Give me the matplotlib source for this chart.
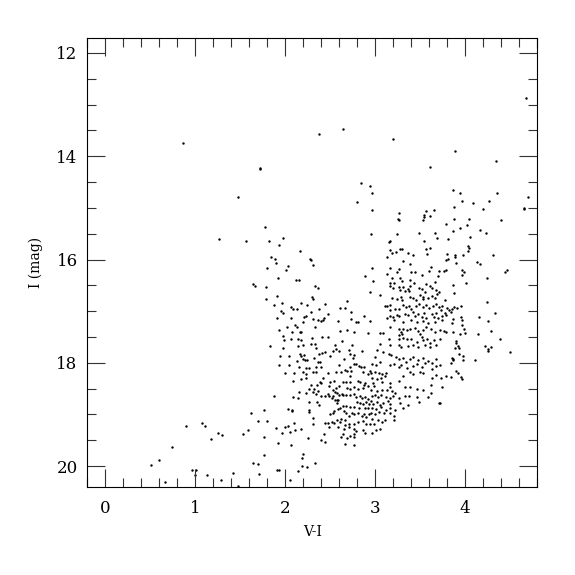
import numpy as np
import matplotlib
matplotlib.use("Agg")
import matplotlib.pyplot as plt
from matplotlib.ticker import MultipleLocator

# (V-I, I) pairs, grouped by region of the CMD
bright_stars = [
    (0.86,13.75),(1.72,14.24),(1.72,14.22),(1.48,14.78),(1.77,15.37),(1.97,15.58),(1.26,15.61),
    (4.68,12.87),(2.38,13.56),(2.64,13.48),(3.20,13.67),(3.89,13.90),(4.34,14.10),(3.61,14.21),
    (2.84,14.51),(2.94,14.58),(2.96,14.71),(2.80,14.89),(2.97,15.04),(3.86,14.66),(3.94,14.71),
    (3.97,14.86),(4.09,14.90),(4.27,14.87),(4.35,14.72),(4.70,14.78),(4.65,15.01),(4.66,15.02),
    (4.20,15.02),(3.88,14.99),(3.26,15.10),(3.25,15.22),(3.27,15.23),(3.65,15.04),(3.57,15.07),
    (3.54,15.13),(3.54,15.18),(3.53,15.24),(3.61,15.16),(3.88,15.22),(4.04,15.22),(4.40,15.24),
    (3.79,15.31),(4.02,15.33),(3.94,15.38),(3.87,15.44),(4.17,15.43),(4.23,15.48),(3.49,15.48),
    (3.67,15.48),(3.24,15.51),(2.95,15.51),(3.69,15.59),(3.81,15.60),(4.05,15.56),
]

faint_tail = [
    (0.90,19.23),(1.07,19.16),(1.11,19.22),(1.25,19.36),(1.30,19.40),(1.17,19.47),(0.74,19.62),
    (0.60,19.89),(0.51,19.97),(0.96,20.08),(1.01,20.08),(1.00,20.18),(1.13,20.17),(1.29,20.27),
    (0.66,20.31),(1.42,20.13),(1.47,20.38),(1.64,19.93),(1.70,19.95),(1.76,19.78),(1.71,20.15),
    (1.91,20.07),(1.93,20.07),(1.92,19.55),(2.06,19.59),(2.05,20.26),(2.14,20.10),(2.19,20.00),
    (2.24,20.02),(2.19,19.85),(2.20,19.77),(2.33,19.94),(2.44,19.53),(2.66,19.58),(2.76,19.59),
]

blue_branch = [
    (1.56,15.64),(1.82,15.64),(1.93,15.72),(2.16,15.83),(1.84,15.95),(1.89,15.99),(1.90,16.06),
    (2.03,16.13),(1.80,16.17),(2.01,16.21),(1.92,16.35),(2.12,16.40),(2.15,16.40),(1.64,16.48),
    (1.66,16.52),(1.79,16.53),(1.91,16.70),(1.79,16.77),(1.96,16.84),(1.87,16.88),(2.06,16.92),
    (2.09,16.95),(2.13,16.95),(1.95,16.99),(1.98,17.03),(1.91,17.13),(2.06,17.14),(2.11,17.27),
    (2.13,17.30),(2.02,17.30),(2.16,17.41),(1.93,17.37),(2.07,17.41),(1.97,17.48),(2.06,17.53),
    (1.99,17.56),(2.14,17.54),(1.83,17.67),(1.97,17.72),(2.14,17.67),(2.16,17.82),(1.94,17.86),
    (2.04,17.87),(2.13,17.96),(1.93,18.04),(2.04,18.05),(2.15,18.09),
    (2.00,18.19),(2.10,18.19),(2.09,18.36),(2.15,18.56),(1.87,18.65),(2.09,18.66),(2.14,18.68),
    (1.76,18.92),(2.03,18.90),(2.07,18.91),(2.07,18.94),(1.62,18.97),(1.70,19.13),(1.80,19.12),
    (2.10,19.16),(2.00,19.24),(2.03,19.22),(1.90,19.27),(1.59,19.31),(2.05,19.34),(2.11,19.31),
    (1.96,19.35),(1.53,19.38),(1.76,19.44),
]

core_upper = [
    (2.27,15.99),(2.29,16.01),(2.31,16.10),(2.89,16.32),(2.33,16.51),(2.36,16.55),(2.94,16.62),
    (2.30,16.73),(2.31,16.77),(2.17,16.85),(2.24,16.88),(2.44,16.86),(2.69,16.81),(2.61,16.94),
    (2.67,16.94),(2.37,16.95),(2.29,17.02),(2.73,17.02),(2.47,17.05),(2.88,17.09),(2.23,17.10),
    (2.21,17.12),(2.43,17.14),(2.42,17.17),(2.40,17.19),(2.31,17.15),(2.36,17.17),(2.20,17.21),
    (2.73,17.15),(2.79,17.20),(2.81,17.21),(2.59,17.19),(2.94,17.19),(2.33,17.30),(2.17,17.41),
    (2.61,17.39),(2.69,17.37),(2.76,17.41),(2.92,17.43),(2.30,17.52),(2.41,17.50),(2.48,17.50),
    (2.63,17.57),(2.17,17.55),(2.29,17.64),(2.33,17.64),(2.20,17.65),(2.55,17.66),(2.56,17.74),
    (2.74,17.65),(2.34,17.72),(2.41,17.81),(2.44,17.79),(2.37,17.83),(2.53,17.77),(2.60,17.78),
    (2.71,17.76),(2.72,17.82),(2.85,17.78),(2.18,17.87),(2.21,17.85),(2.20,17.92),(2.32,17.90),
    (2.50,17.87),(2.65,17.92),(2.77,17.85),(2.75,17.90),(2.22,17.95),(2.24,17.95),(2.39,17.99),
    (2.36,17.99),(2.79,18.03),(2.82,18.07),(2.84,18.08),(2.88,18.09),(2.60,18.05),(2.72,18.09),
    (2.76,18.03),(2.34,18.08),(2.40,18.08),(2.23,18.10),(2.26,18.10),(2.66,18.13),
]

core_lower = [
    (2.20,18.18),(2.23,18.21),(2.31,18.18),(2.34,18.18),(2.47,18.20),(2.56,18.18),(2.62,18.17),
    (2.69,18.16),(2.73,18.16),(2.72,18.25),(2.87,18.17),(2.92,18.22),(2.94,18.16),(2.23,18.29),
    (2.18,18.31),(2.42,18.29),(2.50,18.37),(2.54,18.36),(2.64,18.38),(2.68,18.38),(2.72,18.38),
    (2.81,18.36),(2.83,18.38),(2.88,18.42),(2.89,18.40),(2.29,18.42),(2.35,18.42),(2.39,18.37),
    (2.40,18.40),(2.26,18.50),(2.32,18.51),(2.36,18.54),(2.49,18.45),(2.53,18.52),(2.56,18.48),
    (2.60,18.45),(2.69,18.49),(2.72,18.51),(2.77,18.47),(2.81,18.50),(2.87,18.48),(2.92,18.45),
    (2.23,18.58),(2.31,18.56),(2.34,18.61),(2.40,18.65),(2.44,18.65),(2.47,18.61),(2.49,18.64),
    (2.53,18.64),(2.55,18.57),(2.57,18.58),(2.60,18.63),(2.63,18.60),(2.64,18.63),(2.68,18.63),
    (2.52,18.69),(2.55,18.72),(2.57,18.71),(2.59,18.72),(2.57,18.77),(2.72,18.63),(2.76,18.61),
    (2.79,18.66),(2.83,18.65),(2.85,18.69),(2.89,18.67),(2.92,18.70),(2.90,18.76),(2.93,18.79),
    (2.26,18.76),(2.35,18.76),(2.37,18.81),(2.80,18.76),(2.83,18.78),(2.87,18.80),(2.64,18.84),
    (2.68,18.83),(2.61,18.87),(2.72,18.85),(2.76,18.85),(2.82,18.87),(2.89,18.87),(2.92,18.87),
    (2.26,18.91),(2.26,18.96),(2.54,18.93),(2.59,18.89),(2.65,18.93),(2.68,18.98),(2.50,18.99),
    (2.53,18.98),(2.71,19.02),(2.74,18.97),(2.77,19.00),(2.81,18.98),(2.85,19.02),(2.88,19.00),
    (2.90,19.04),(2.93,18.99),(2.31,19.07),(2.62,19.08),(2.66,19.11),(2.58,19.10),(2.44,19.16),
    (2.48,19.16),(2.52,19.14),(2.54,19.16),(2.61,19.15),(2.66,19.21),(2.71,19.18),(2.76,19.18),
    (2.81,19.15),(2.87,19.12),(2.90,19.18),(2.31,19.18),(2.17,19.29),(2.49,19.25),(2.59,19.25),
    (2.65,19.29),(2.71,19.25),(2.76,19.29),(2.79,19.32),(2.87,19.31),(2.89,19.36),(2.43,19.38),
    (2.64,19.37),(2.72,19.41),(2.76,19.37),(2.25,19.46),(2.40,19.49),(2.62,19.43),(2.69,19.45),
    (2.76,19.44),
]

red_upper = [
    (3.16,15.64),(3.15,15.67),(3.28,15.79),(3.30,15.79),(3.54,15.64),(3.61,15.77),(3.57,15.80),
    (3.17,15.82),(3.23,15.86),(3.19,15.88),(3.37,15.88),(3.42,15.91),(3.13,15.95),(3.58,15.90),
    (3.31,16.02),(3.39,16.09),(2.96,16.16),(3.17,16.16),(3.26,16.19),(3.24,16.24),(3.40,16.24),
    (3.44,16.24),(3.52,16.29),(3.62,16.15),(3.60,16.22),(3.13,16.28),(3.19,16.35),(3.71,16.23),
    (3.70,16.32),(2.98,16.41),(3.28,16.35),(3.30,16.41),(3.39,16.40),(3.43,16.45),(3.16,16.45),
    (3.21,16.46),(3.57,16.47),(3.67,16.44),
]

red_dense = [
    (3.16,16.52),(3.20,16.55),(3.27,16.54),(3.28,16.59),(3.31,16.54),(3.33,16.61),(3.36,16.57),
    (3.38,16.61),(3.39,16.52),(3.49,16.55),(3.52,16.57),(3.55,16.63),(3.61,16.52),(3.63,16.56),
    (3.68,16.59),(3.71,16.63),(3.05,16.69),(3.19,16.74),(3.24,16.77),(3.29,16.72),(3.30,16.78),
    (3.39,16.72),(3.42,16.75),(3.45,16.78),(3.50,16.69),(3.53,16.72),(3.53,16.77),(3.59,16.74),
    (3.63,16.71),(3.66,16.75),(3.69,16.66),
    (3.11,16.90),(3.13,16.90),(3.16,16.88),(3.16,16.98),(3.22,16.95),(3.27,16.96),(3.31,16.88),
    (3.34,16.92),(3.38,16.90),(3.40,16.95),(3.45,16.90),(3.49,16.87),(3.53,16.92),(3.57,16.88),
    (3.60,16.94),(3.64,16.90),(3.68,16.87),(3.71,16.92),(3.74,16.90),(3.73,16.98),
    (3.16,17.09),(3.20,17.12),(3.24,17.08),(3.27,17.10),(3.33,17.05),(3.37,17.08),(3.42,17.01),
    (3.44,17.09),(3.48,17.05),(3.52,17.11),(3.54,17.03),(3.57,17.14),(3.63,17.06),(3.65,17.12),
    (3.68,17.03),(3.70,17.14),(3.74,17.10),(3.13,17.14),(3.21,17.17),(3.31,17.21),(3.40,17.17),
    (3.46,17.21),(3.53,17.19),(3.59,17.22),(3.66,17.21),(3.74,17.17),
    (3.17,17.31),(3.26,17.34),(3.29,17.40),(3.31,17.34),(3.35,17.37),(3.39,17.35),(3.44,17.32),
    (3.48,17.39),(3.53,17.36),(3.56,17.31),(3.62,17.34),(3.66,17.41),(3.72,17.37),(3.05,17.43),
    (3.09,17.43),(3.26,17.47),(3.30,17.45),(3.50,17.45),
    (3.15,17.53),(3.27,17.53),(3.31,17.52),(3.35,17.54),(3.40,17.53),(3.46,17.59),(3.52,17.50),
    (3.53,17.56),(3.58,17.53),(3.61,17.61),(3.65,17.56),(3.72,17.54),(3.05,17.63),(3.16,17.65),
    (3.26,17.65),(3.29,17.69),(3.37,17.67),(3.42,17.65),(3.48,17.69),(3.55,17.65),(3.61,17.69),
    (3.68,17.66),
    (3.02,17.76),(3.09,17.79),(3.15,17.82),(3.00,17.89),(3.05,17.98),(3.18,17.85),(3.23,17.89),
    (3.27,17.93),(3.31,17.90),(3.34,17.98),(3.39,17.93),(3.42,17.89),(3.48,17.95),(3.53,17.90),
    (3.59,17.97),(3.63,18.00),(3.68,17.92),(3.72,18.05),(2.97,18.03),(3.01,18.05),(3.16,18.05),
    (3.21,18.03),(3.26,18.08),(3.29,18.05),(3.35,18.10),(3.42,18.06),(3.46,18.03),(3.52,18.08),
    (3.55,18.01),(3.63,18.11),(3.68,18.06),
]

red_lower = [
    (2.95,18.20),(3.00,18.18),(3.04,18.20),(3.08,18.22),(3.12,18.20),(2.97,18.30),(3.02,18.32),
    (3.07,18.29),(3.11,18.26),(3.31,18.25),(3.39,18.18),(3.42,18.21),(3.50,18.18),(3.53,18.20),
    (3.63,18.29),(3.68,18.24),(2.98,18.40),(2.99,18.45),(3.08,18.37),(3.17,18.40),(3.17,18.47),
    (3.27,18.35),(3.33,18.47),(3.39,18.47),(3.46,18.50),(3.53,18.53),(3.62,18.43),(3.62,18.58),
    (2.95,18.53),(3.02,18.54),(3.08,18.52),(3.13,18.53),(3.19,18.54),(3.22,18.58),(2.96,18.65),
    (3.00,18.63),(3.03,18.67),(3.07,18.63),(3.12,18.66),(3.16,18.69),(3.20,18.65),(3.26,18.69),
    (3.33,18.65),(3.38,18.65),(3.46,18.66),(3.49,18.76),(3.59,18.66),(2.95,18.74),(2.98,18.79),
    (3.02,18.76),(3.05,18.82),(3.09,18.78),(3.14,18.74),(3.17,18.79),(3.28,18.78),(3.31,18.87),
    (3.36,18.82),(3.71,18.78),(2.96,18.87),(3.01,18.89),(3.06,18.85),(3.12,18.92),(3.17,18.87),
    (3.22,18.91),(2.95,18.97),(3.00,19.00),(3.04,18.95),(3.10,18.98),(3.16,18.97),(3.21,19.02),
    (2.97,19.08),(3.03,19.11),(3.08,19.14),(3.11,19.11),(3.21,19.10),(2.94,19.18),(2.99,19.19),
    (3.05,19.28),(3.01,19.31),(2.96,19.36),
]

red_edge = [
    (4.03,15.73),(4.04,15.77),(4.03,15.83),(3.80,15.90),(3.89,15.91),(3.89,15.95),(3.98,15.91),
    (4.31,15.92),(3.79,16.00),(3.81,15.99),(3.90,16.07),(4.13,16.04),(4.17,16.08),(3.77,16.23),
    (3.79,16.20),(3.96,16.20),(3.99,16.24),(3.97,16.29),(4.44,16.25),(4.47,16.20),(4.24,16.35),
    (4.01,16.45),(3.87,16.49),(3.88,16.65),(3.78,16.79),(4.24,16.83),(3.80,16.93),
    (3.82,16.97),(3.85,16.95),(3.88,16.91),(3.91,16.93),(3.95,16.89),
    (3.78,17.04),(3.79,17.08),(3.84,17.01),(4.33,17.04),(3.95,17.12),(3.97,17.17),(4.16,17.12),
    (4.26,17.19),(3.86,17.16),(3.85,17.23),(3.97,17.27),
    (3.99,17.34),(4.29,17.38),(3.77,17.39),(3.79,17.41),(3.86,17.41),(3.94,17.45),(4.00,17.42),
    (4.14,17.44),(4.39,17.53),(3.90,17.57),(3.90,17.61),(4.22,17.67),(4.29,17.70),
    (4.26,17.74),(4.25,17.77),(3.92,17.68),(3.89,17.72),(3.93,17.72),(4.50,17.79),
    (3.93,17.83),(3.98,17.87),(3.85,17.91),(3.86,17.94),(3.87,17.92),(3.84,18.00),
    (3.98,17.95),(4.11,17.94),(3.90,18.16),(3.92,18.20),(3.79,18.25),(3.84,18.27),(3.95,18.27),
    (3.97,18.31),(3.73,18.29),(3.74,18.47),(3.72,18.77),
]

x_ticks = [0, 1, 2, 3, 4]
y_ticks = [12, 14, 16, 18, 20]

groups = [bright_stars, faint_tail, blue_branch, core_upper, core_lower,
          red_upper, red_dense, red_lower, red_edge]
data = np.array([p for g in groups for p in g])
vi, imag = data[:, 0], data[:, 1]

plt.rcParams['font.family'] = ['DejaVu Serif']
fig = plt.figure(figsize=(5.75, 5.75), dpi=100)
ax = fig.add_axes([0.152, 0.1525, 0.782, 0.7815])
ax.scatter(vi, imag, s=3.0, c='black', marker='o', linewidths=0)

ax.set_xlim(-0.2, 4.8)
ax.set_ylim(20.41, 11.71)
ax.set_xticks(x_ticks)
ax.set_yticks(y_ticks)
ax.xaxis.set_minor_locator(MultipleLocator(0.2))
ax.yaxis.set_minor_locator(MultipleLocator(0.5))
ax.tick_params(which='both', direction='in', top=True, right=True, width=0.8, color='#333333')
ax.tick_params(which='major', length=13, labelsize=12, pad=7)
ax.tick_params(axis='x', which='major', pad=9)
ax.tick_params(which='minor', length=6.5)
for s in ax.spines.values():
    s.set_linewidth(0.8)
ax.set_xlabel('V-I', fontsize=10, labelpad=6)
ax.set_ylabel('I (mag)', fontsize=10, labelpad=10)

fig.savefig('out.png', dpi=100)
